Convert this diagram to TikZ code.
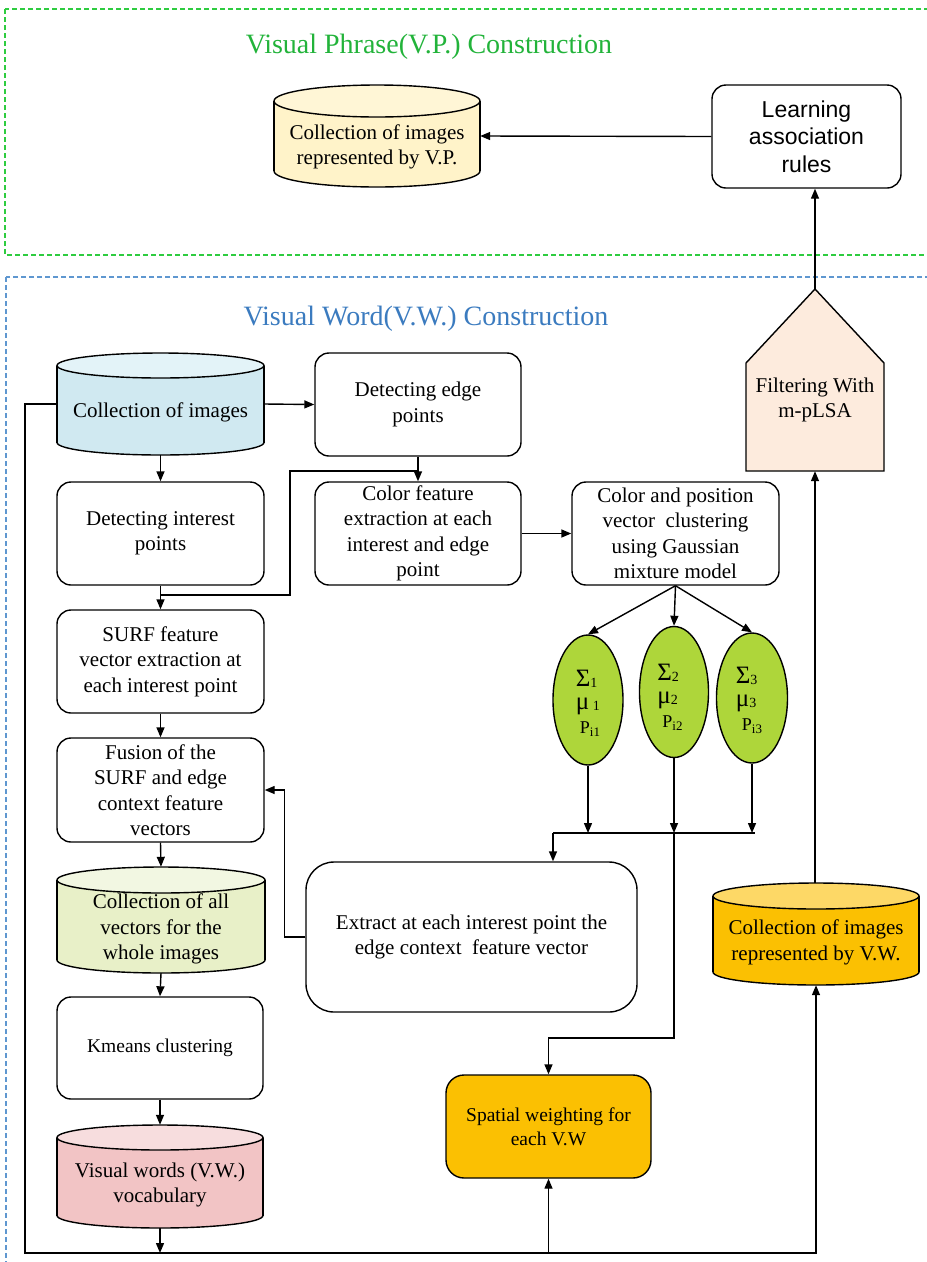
\documentclass[tikz,border=0pt]{standalone}
\usepackage{fontspec}
\setmainfont{Liberation Serif}
\newfontfamily\sansf{Liberation Sans}
\usetikzlibrary{arrows.meta,shapes.geometric}
\definecolor{vpgreen}{HTML}{22B33A}
\definecolor{gdash}{HTML}{2ECC40}
\definecolor{vwblue}{HTML}{3B7BBF}
\definecolor{bdash}{HTML}{5F97D0}
\definecolor{cylyel}{HTML}{FFF3C9}
\definecolor{cylyeltop}{HTML}{FFF6D6}
\definecolor{cylblue}{HTML}{D0E9F1}
\definecolor{cylbluetop}{HTML}{E3F3F8}
\definecolor{cylgreen}{HTML}{E8F0C8}
\definecolor{cylgreentop}{HTML}{F2F7E2}
\definecolor{cylpink}{HTML}{F2C4C5}
\definecolor{cylpinktop}{HTML}{F7DDDE}
\definecolor{goldc}{HTML}{FBC002}
\definecolor{goldtop}{HTML}{FDD866}
\definecolor{peach}{HTML}{FDEBDD}
\definecolor{limec}{HTML}{AED63A}
\newcommand\drawcyl[8]{%
  \pgfmathsetmacro\cylcx{(#2+#3)/2}%
  \pgfmathsetmacro\cylrx{(#3-#2)/2}%
  \pgfmathsetmacro\cylya{#4+#6}%
  \pgfmathsetmacro\cylyb{#5-#6}%
  \pgfmathsetmacro\cylcy{(#4+#5)/2}%
  \pgfmathsetmacro\cylhh{#5-#4}%
  \pgfmathsetmacro\cylww{#3-#2}%
  \fill[#7] (#2,\cylya) rectangle (#3,\cylyb);
  \fill[#7] (\cylcx,\cylyb) ellipse [x radius=\cylrx pt, y radius=#6 pt];
  \begin{scope}
    \clip (#2-3,\cylyb) rectangle (#3+3,#5+3);
    \draw[ln] (\cylcx,\cylyb) ellipse [x radius=\cylrx pt, y radius=#6 pt];
  \end{scope}
  \draw[ln] (#2,\cylya) -- (#2,\cylyb) (#3,\cylya) -- (#3,\cylyb);
  \filldraw[ln, fill=#8] (\cylcx,\cylya) ellipse [x radius=\cylrx pt, y radius=#6 pt];
  \node[inner sep=0, minimum width=\cylww pt, minimum height=\cylhh pt] (#1) at (\cylcx,\cylcy) {};
}
\newcommand\gsub[1]{\raisebox{-1pt}{\fontsize{14}{14}\selectfont #1}}
\newcommand\psub[1]{{\fontsize{18}{18}\selectfont P\raisebox{-3pt}{\fontsize{13}{13}\selectfont #1}}}
\begin{document}
\begin{tikzpicture}[x=1pt,y=-1pt,
  ln/.style={line width=1.4pt, draw=black},
  arr/.style={ln, -{Triangle[length=10pt,width=8pt]}},
  rbox/.style={ln, rounded corners=14pt, align=center, inner sep=0,
     minimum width=206pt, minimum height=103pt, font=\fontsize{21}{25.5}\selectfont},
  txt/.style={align=center, inner sep=0, font=\fontsize{21}{25.5}\selectfont},
  gell/.style={ellipse, ln, fill=limec, inner sep=0},
  gtxt/.style={align=left, inner sep=0, font=\fontsize{25}{23.5}\selectfont},
  ttl/.style={inner sep=0, font=\fontsize{28}{30}\selectfont}]
\useasboundingbox (0,0) rectangle (927,1262);
\clip (0,0) rectangle (927,1262);
% frames
\draw[draw=gdash, line width=1.3pt, dash pattern=on 5pt off 3pt] (5,9) rectangle (945,255);
\draw[draw=bdash, line width=1.3pt, dash pattern=on 5pt off 3pt] (6,277) rectangle (945,1280);
\node[ttl, text=vpgreen] (vptitle) at (429,47) {Visual Phrase(V.P.) Construction};
\node[ttl, text=vwblue] (vwtitle) at (426,319) {Visual Word(V.W.) Construction};
% cylinders
\drawcyl{vp}{274}{480}{85}{187}{16}{cylyel}{cylyeltop}
\node[txt] (vptext) at (377,147) {Collection of images\\represented by V.P.};
\drawcyl{coll}{57}{264}{353}{455}{12.5}{cylblue}{cylbluetop}
\node[txt] (colltext) at (160.5,412) {Collection of images};
\drawcyl{allvec}{57}{265}{867}{973}{13}{cylgreen}{cylgreentop}
\node[txt] (allvectext) at (161,929) {Collection of all\\vectors for the\\whole images};
\drawcyl{vwvoc}{57}{263}{1125}{1228}{12.5}{cylpink}{cylpinktop}
\node[txt] (vwvoctext) at (160,1185) {Visual words (V.W.)\\vocabulary};
\drawcyl{vwcoll}{713}{919}{883}{985}{13}{goldc}{goldtop}
\node[txt] (vwcolltext) at (816,942.5) {Collection of images\\represented by V.W.};
% learning
\node[rbox, minimum width=189pt, font=\sansf\fontsize{23}{27.5}\selectfont] (learn) at (806.5,136.5) {Learning\\association\\rules};
% filter pentagon
\filldraw[ln, fill=peach] (746,471) -- (746,363) -- (815,289) -- (884,363) -- (884,471) -- cycle;
\node[inner sep=0, minimum width=138pt, minimum height=182pt] (filter) at (815,380) {};
\node[txt] (filtertext) at (815,400) {Filtering With\\m-pLSA};
% boxes
\node[rbox] (edge) at (418,404.5) {Detecting edge\\points};
\node[rbox] (color) at (418,533.5) {Color feature\\extraction at each\\interest and edge\\point};
\node[rbox, minimum width=207pt] (gmm) at (675.5,533.5) {Color and position\\vector~ clustering\\using Gaussian\\mixture model};
\node[rbox, minimum width=207pt] (interest) at (160.5,533.5) {Detecting interest\\points};
\node[rbox, minimum width=207pt] (surf) at (160.5,661.5) {SURF feature\\vector extraction at\\each interest point};
\node[rbox, minimum width=207pt, minimum height=104pt] (fusion) at (160.5,790) {Fusion of the\\SURF and edge\\context feature\\vectors};
\node[rbox, minimum height=102pt, font=\fontsize{19.5}{24}\selectfont] (kmeans) at (160,1048) {Kmeans clustering};
\node[rbox, minimum width=331pt, minimum height=150pt, rounded corners=28pt] (extract) at (471.5,937) {Extract at each interest point the\\edge context~ feature vector};
\node[rbox, minimum width=205pt, fill=goldc, rounded corners=18pt, font=\fontsize{19.5}{24}\selectfont] (spatial) at (548.5,1126.5) {Spatial weighting for\\each V.W};
% gaussians
\node[gell, minimum width=70pt, minimum height=130pt] (g1) at (588,700) {};
\node[gell, minimum width=69pt, minimum height=131pt] (g2) at (674,692) {};
\node[gell, minimum width=71pt, minimum height=130pt] (g3) at (752,698) {};
\node[gtxt] (g1t) at (588,703) {Σ\gsub{1}\\μ\gsub{\ 1}\\\hspace*{4pt}\psub{i1}};
\node[gtxt] (g2t) at (670,697) {Σ\gsub{2}\\μ\gsub{2}\\\hspace*{5pt}\psub{i2}};
\node[gtxt] (g3t) at (749,700) {Σ\gsub{3}\\μ\gsub{3}\\\hspace*{6pt}\psub{i3}};
% coordinates
\coordinate (br) at (418,471);
\coordinate (bk) at (290,595);
\coordinate (jl) at (553,833);
\coordinate (jr) at (755,833);
\coordinate (botL) at (25,1253);
% connectors
\draw[arr] (learn.west) -- (vp.east);
\draw[arr] (filter.north) -- (filter.north |- learn.south);
\draw[arr] (filter.south |- vwcoll.north) -- (filter.south);
\draw[arr] (coll.east) -- (edge.west);
\draw[arr] (coll.south) -- (interest.north);
\draw[arr] (edge.south) -- (color.north);
\draw[ln] (br) -| (bk) -- (bk -| interest.south);
\draw[arr] (interest.south) -- (surf.north);
\draw[arr] (color.east) -- (gmm.west);
\draw[arr] (gmm.south) -- (g1.north);
\draw[arr] (gmm.south) -- (g2.north);
\draw[arr] (gmm.south) -- (g3.north);
\draw[arr] (g1.south) -- (g1.south |- jl);
\draw[arr] (g2.south) -- (g2.south |- jl);
\draw[arr] (g3.south) -- (g3.south |- jl);
\draw[ln] (jl) -- (jr);
\draw[arr] (jl) -- (extract.north -| jl);
\draw[arr] (g2.south |- jl) -- ++(0,205) -| (spatial.north);
\draw[arr] (surf.south) -- (fusion.north);
\draw[arr] (extract.west) -- ++(-21,0) |- (fusion.east);
\draw[arr] (fusion.south) -- (allvec.north);
\draw[arr] (allvec.south) -- (kmeans.north);
\draw[arr] (kmeans.south) -- (vwvoc.north);
\draw[arr] (vwvoc.south) -- (vwvoc.south |- botL);
\draw[arr] (coll.west) -| (botL) -- (vwcoll.south |- botL) -- (vwcoll.south);
\draw[arr] (spatial.south |- botL) -- (spatial.south);
\end{tikzpicture}
\end{document}
